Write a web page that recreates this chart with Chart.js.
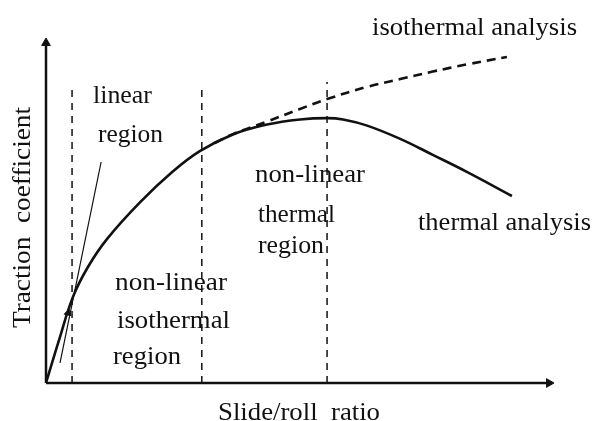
<!DOCTYPE html>
<html>
<head>
<meta charset="utf-8">
<script src="https://cdn.jsdelivr.net/npm/chart.js@4/dist/chart.umd.min.js"></script>
<style>
  html, body { margin: 0; padding: 0; background: #fff; }
  #wrap { width: 596px; height: 421px; }
</style>
</head>
<body>
<div id="wrap"><canvas id="chart"></canvas></div>
<script>
// slide/roll ratio (x) and traction coefficient (y), arbitrary units 0-100
const thermalX = [0, 2.6, 5.4, 8.4, 12.2, 18.8, 25.3, 30.7, 37.3, 44.1, 50.7, 56.1, 59.3, 64.1, 70.7, 77.2, 84.0, 93.0];
const thermalY = [0, 12.6, 25.4, 34.2, 42.4, 53.2, 62.2, 68.2, 73.1, 76.0, 77.5, 77.9, 77.5, 75.7, 71.8, 67.1, 62.1, 55.0];

const isoX = [33.7, 37.3, 44.1, 50.7, 56.1, 64.1, 70.7, 77.2, 84.0, 92.0];
const isoY = [70.6, 73.2, 76.9, 80.6, 83.5, 87.1, 89.4, 91.6, 93.7, 95.9];

// region boundaries
const boundaryX = [5.2, 31.1, 56.1];
const boundaryTop = [86.8, 86.2, 88.5];

// linear-region tangent with its arrow
const tangentX = [2.8, 11.0];
const tangentY = [5.9, 65.0];
const tangentArrow = { x: 4.4, y: 20.6 };

const xTitle = 'Slide/roll  ratio';
const yTitle = 'Traction  coefficient';

const ink = '#111';

function pts(xs, ys) {
  return xs.map((x, i) => ({ x: x, y: ys[i] }));
}

const datasets = [];

// axes with arrow heads
datasets.push({
  data: [{ x: 0, y: 0 }, { x: 100.4, y: 0 }],
  showLine: true, borderColor: ink, borderWidth: 2.5, clip: false,
  pointRadius: [0, 5], pointStyle: 'triangle', pointRotation: [0, 90],
  pointBackgroundColor: ink, pointBorderColor: ink, pointBorderWidth: 1
});
datasets.push({
  data: [{ x: 0, y: 0 }, { x: 0, y: 100 }],
  showLine: true, borderColor: ink, borderWidth: 2.5, clip: false,
  pointRadius: [0, 5], pointStyle: 'triangle', pointRotation: [0, 0],
  pointBackgroundColor: ink, pointBorderColor: ink, pointBorderWidth: 1
});

boundaryX.forEach((bx, i) => {
  datasets.push({
    data: [{ x: bx, y: 0 }, { x: bx, y: boundaryTop[i] }],
    showLine: true, borderColor: ink, borderWidth: 1.5, borderDash: [7, 6],
    pointRadius: 0, clip: false
  });
});

datasets.push({
  data: pts(tangentX, tangentY),
  showLine: true, borderColor: ink, borderWidth: 1.2, pointRadius: 0, clip: false
});
datasets.push({
  data: [tangentArrow],
  showLine: false, pointStyle: 'triangle', pointRadius: 4, pointRotation: 11.5,
  pointBackgroundColor: ink, pointBorderColor: ink, clip: false
});

datasets.push({
  label: 'isothermal analysis',
  data: pts(isoX, isoY),
  showLine: true, borderColor: ink, borderWidth: 2.6, borderDash: [9, 6],
  tension: 0.4, pointRadius: 0, clip: false
});
datasets.push({
  label: 'thermal analysis',
  data: pts(thermalX, thermalY),
  showLine: true, borderColor: ink, borderWidth: 2.6,
  tension: 0.4, pointRadius: 0, clip: false
});

// text: left, centre y, width in px
const notes = [
  ['isothermal analysis', 372, 28, 205],
  ['linear', 93, 96, 59],
  ['region', 98, 135, 65],
  ['non-linear', 255, 175, 110],
  ['thermal', 258, 215, 77],
  ['region', 258, 246, 66],
  ['thermal analysis', 418, 223, 173],
  ['non-linear', 115, 283, 112],
  ['isothermal', 117, 321, 113],
  ['region', 113, 357, 68],
  [xTitle, 218, 413, 162]
];

function stretchText(ctx, text, x, y, w) {
  const m = ctx.measureText(text).width;
  ctx.save();
  ctx.translate(x, y);
  ctx.scale(w / m, 1);
  ctx.fillText(text, 0, 0);
  ctx.restore();
}

const textPlugin = {
  id: 'notes',
  afterDatasetsDraw(chart) {
    const ctx = chart.ctx;
    ctx.save();
    ctx.fillStyle = ink;
    ctx.font = '25px "Liberation Serif", "Times New Roman", serif';
    ctx.textBaseline = 'middle';
    ctx.textAlign = 'left';
    notes.forEach(n => stretchText(ctx, n[0], n[1], n[2], n[3]));
    // y-axis title, rotated
    ctx.save();
    ctx.translate(23, 328);
    ctx.rotate(-Math.PI / 2);
    stretchText(ctx, yTitle, 0, 0, 221);
    ctx.restore();
    ctx.restore();
  }
};

new Chart(document.getElementById('chart'), {
  type: 'scatter',
  data: { datasets: datasets },
  options: {
    responsive: true,
    maintainAspectRatio: false,
    animation: false,
    layout: { padding: { left: 46, right: 49, top: 43, bottom: 38 } },
    scales: {
      x: { type: 'linear', min: 0, max: 100, display: false },
      y: { type: 'linear', min: 0, max: 100, display: false }
    },
    plugins: {
      legend: { display: false },
      tooltip: { enabled: false }
    }
  },
  plugins: [textPlugin]
});
</script>
</body>
</html>
